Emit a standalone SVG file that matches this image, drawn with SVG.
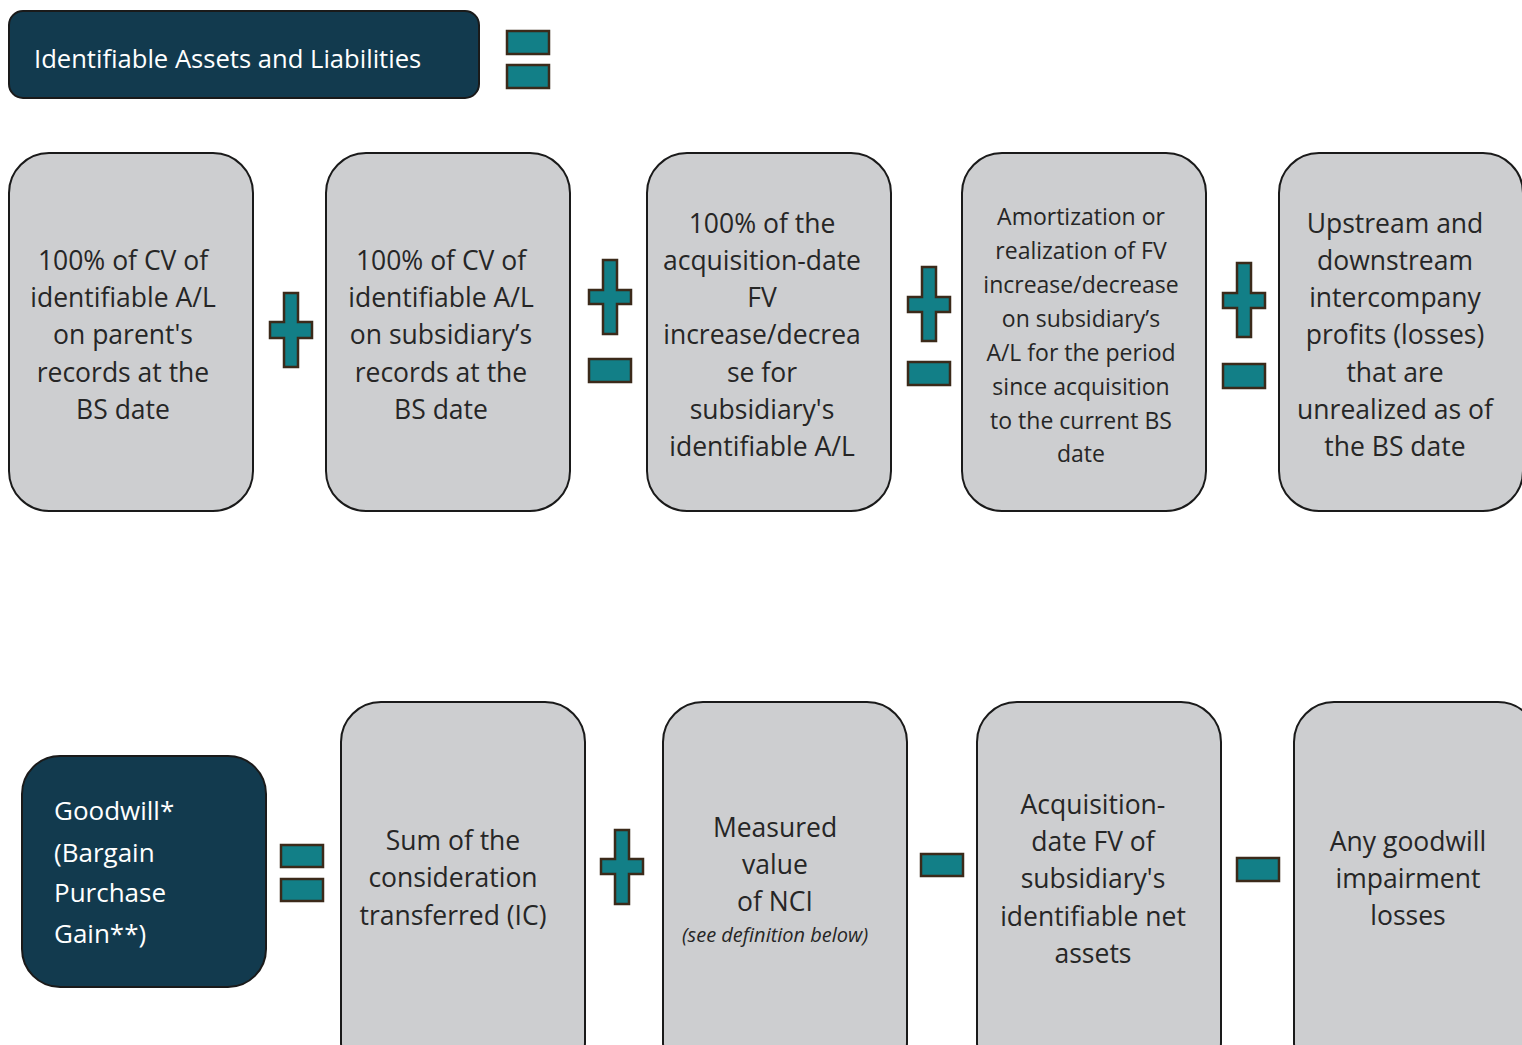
<svg xmlns="http://www.w3.org/2000/svg" width="1522" height="1045" viewBox="0 0 1522 1045">
<style>
.hdr{fill:#123a4e;stroke:#1a1a1a;stroke-width:2}
.box{fill:#cdced0;stroke:#1a1a1a;stroke-width:2}
.op{fill:#127f87;stroke:#3b2a1a;stroke-width:2.5}
.t{font-family:"Open Sans","Noto Sans","Liberation Sans",sans-serif;font-size:26.5px;fill:#262626;text-anchor:middle;dominant-baseline:central}
.ts{font-family:"Open Sans","Noto Sans","Liberation Sans",sans-serif;font-size:23px;fill:#262626;text-anchor:middle;dominant-baseline:central}
.ti{font-family:"Open Sans","Noto Sans","Liberation Sans",sans-serif;font-size:20px;font-style:italic;fill:#262626;text-anchor:middle;dominant-baseline:central}
.w{font-family:"Open Sans","Noto Sans","Liberation Sans",sans-serif;font-size:26px;fill:#ffffff;dominant-baseline:central}
</style>
<rect width="1522" height="1045" fill="#ffffff"/>
<g id="header">
<rect class="hdr" x="9" y="11" width="470" height="87" rx="14"/>
<text class="w" x="34" y="58" style="font-size:25.6px">Identifiable Assets and Liabilities</text>
</g>
<g id="eq-top">
<rect class="op" x="507" y="31" width="42" height="23"/>
<rect class="op" x="507" y="65" width="42" height="23"/>
</g>
<g id="box1">
<rect class="box" x="9" y="153" width="244" height="358" rx="40"/>
<text class="t" x="123" y="260">100% of CV of</text>
<text class="t" x="123" y="297">identifiable A/L</text>
<text class="t" x="123" y="334">on parent's</text>
<text class="t" x="123" y="372">records at the</text>
<text class="t" x="123" y="409">BS date</text>
</g>
<g id="op1">
<polygon class="op" points="284,293 298,293 298,322 312,322 312,338 298,338 298,367 284,367 284,338 270,338 270,322 284,322"/>
</g>
<g id="box2">
<rect class="box" x="326" y="153" width="244" height="358" rx="40"/>
<text class="t" x="441" y="260">100% of CV of</text>
<text class="t" x="441" y="297">identifiable A/L</text>
<text class="t" x="441" y="334">on subsidiary’s</text>
<text class="t" x="441" y="372">records at the</text>
<text class="t" x="441" y="409">BS date</text>
</g>
<g id="op2">
<polygon class="op" points="603,260 617,260 617,290 631,290 631,304 617,304 617,334 603,334 603,304 589,304 589,290 603,290"/>
<rect class="op" x="589" y="359" width="42" height="23"/>
</g>
<g id="box3">
<rect class="box" x="647" y="153" width="244" height="358" rx="40"/>
<text class="t" x="762" y="223">100% of the</text>
<text class="t" x="762" y="260">acquisition-date</text>
<text class="t" x="762" y="297">FV</text>
<text class="t" x="762" y="334">increase/decrea</text>
<text class="t" x="762" y="372">se for</text>
<text class="t" x="762" y="409">subsidiary's</text>
<text class="t" x="762" y="446">identifiable A/L</text>
</g>
<g id="op3">
<polygon class="op" points="922,267 936,267 936,297 950,297 950,312 936,312 936,341 922,341 922,312 908,312 908,297 922,297"/>
<rect class="op" x="908" y="362" width="42" height="23"/>
</g>
<g id="box4">
<rect class="box" x="962" y="153" width="244" height="358" rx="40"/>
<text class="ts" x="1081" y="216">Amortization or</text>
<text class="ts" x="1081" y="250">realization of FV</text>
<text class="ts" x="1081" y="284">increase/decrease</text>
<text class="ts" x="1081" y="318">on subsidiary’s</text>
<text class="ts" x="1081" y="352">A/L for the period</text>
<text class="ts" x="1081" y="386">since acquisition</text>
<text class="ts" x="1081" y="420">to the current BS</text>
<text class="ts" x="1081" y="453">date</text>
</g>
<g id="op4">
<polygon class="op" points="1237,263 1251,263 1251,293 1265,293 1265,308 1251,308 1251,337 1237,337 1237,308 1223,308 1223,293 1237,293"/>
<rect class="op" x="1223" y="364" width="42" height="24"/>
</g>
<g id="box5">
<rect class="box" x="1279" y="153" width="244" height="358" rx="40"/>
<text class="t" x="1395" y="223">Upstream and</text>
<text class="t" x="1395" y="260">downstream</text>
<text class="t" x="1395" y="297">intercompany</text>
<text class="t" x="1395" y="334">profits (losses)</text>
<text class="t" x="1395" y="372">that are</text>
<text class="t" x="1395" y="409">unrealized as of</text>
<text class="t" x="1395" y="446">the BS date</text>
</g>
<g id="goodwill">
<rect class="hdr" x="22" y="756" width="244" height="231" rx="38"/>
<text class="w" x="54" y="810">Goodwill*</text>
<text class="w" x="54" y="852">(Bargain</text>
<text class="w" x="54" y="892">Purchase</text>
<text class="w" x="54" y="933">Gain**)</text>
</g>
<g id="eq-bottom">
<rect class="op" x="281" y="845" width="42" height="22"/>
<rect class="op" x="281" y="879" width="42" height="22"/>
</g>
<g id="boxA">
<rect class="box" x="341" y="702" width="244" height="380" rx="40"/>
<text class="t" x="453" y="840">Sum of the</text>
<text class="t" x="453" y="877">consideration</text>
<text class="t" x="453" y="915">transferred (IC)</text>
</g>
<g id="opA">
<polygon class="op" points="615,830 629,830 629,859 643,859 643,874 629,874 629,904 615,904 615,874 601,874 601,859 615,859"/>
</g>
<g id="boxB">
<rect class="box" x="663" y="702" width="244" height="380" rx="40"/>
<text class="t" x="775" y="827">Measured</text>
<text class="t" x="775" y="864">value</text>
<text class="t" x="775" y="901">of NCI</text>
<text class="ti" x="775" y="934">(see definition below)</text>
</g>
<g id="opB">
<rect class="op" x="921" y="854" width="42" height="22"/>
</g>
<g id="boxC">
<rect class="box" x="977" y="702" width="244" height="380" rx="40"/>
<text class="t" x="1093" y="804">Acquisition-</text>
<text class="t" x="1093" y="841">date FV of</text>
<text class="t" x="1093" y="878">subsidiary's</text>
<text class="t" x="1093" y="916">identifiable net</text>
<text class="t" x="1093" y="953">assets</text>
</g>
<g id="opC">
<rect class="op" x="1237" y="858" width="42" height="23"/>
</g>
<g id="boxD">
<rect class="box" x="1294" y="702" width="244" height="380" rx="40"/>
<text class="t" x="1408" y="841">Any goodwill</text>
<text class="t" x="1408" y="878">impairment</text>
<text class="t" x="1408" y="915">losses</text>
</g>
<g id="connectors"></g>
</svg>
